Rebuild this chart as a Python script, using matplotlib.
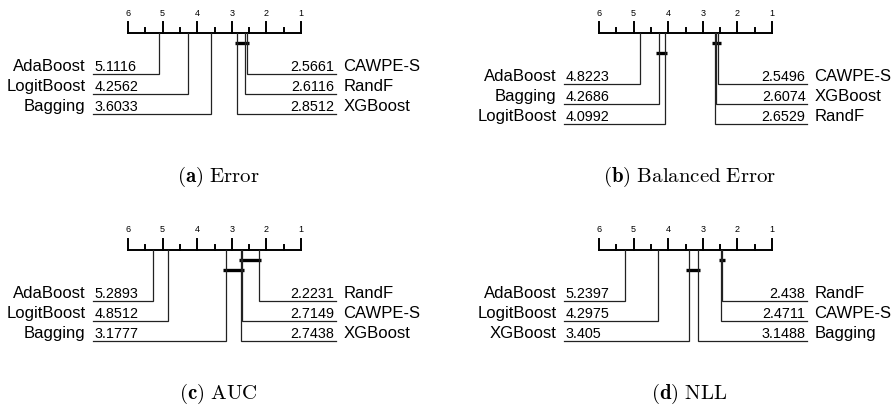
import matplotlib
matplotlib.use("Agg")
import matplotlib.pyplot as plt
import numpy as np

plt.rcParams["font.family"] = ["Liberation Sans", "DejaVu Sans"]
plt.rcParams["mathtext.fontset"] = "cm"

# average ranks over datasets (lower is better)
ERROR_NAMES = ["AdaBoost", "LogitBoost", "Bagging", "XGBoost", "RandF", "CAWPE-S"]
ERROR_RANKS = [5.1116, 4.2562, 3.6033, 2.8512, 2.6116, 2.5661]
ERROR_CLIQUES = [("XGBoost", "CAWPE-S")]

BAL_NAMES = ["AdaBoost", "Bagging", "LogitBoost", "RandF", "XGBoost", "CAWPE-S"]
BAL_RANKS = [4.8223, 4.2686, 4.0992, 2.6529, 2.6074, 2.5496]
BAL_CLIQUES = [("RandF", "CAWPE-S"), ("Bagging", "LogitBoost")]

AUC_NAMES = ["AdaBoost", "LogitBoost", "Bagging", "XGBoost", "CAWPE-S", "RandF"]
AUC_RANKS = [5.2893, 4.8512, 3.1777, 2.7438, 2.7149, 2.2231]
AUC_CLIQUES = [("CAWPE-S", "RandF"), ("Bagging", "CAWPE-S")]

NLL_NAMES = ["AdaBoost", "LogitBoost", "XGBoost", "Bagging", "CAWPE-S", "RandF"]
NLL_RANKS = [5.2397, 4.2975, 3.405, 3.1488, 2.4711, 2.438]
NLL_CLIQUES = [("CAWPE-S", "RandF"), ("XGBoost", "Bagging")]

CAPTIONS = [("a", "Error"), ("b", "Balanced\\ Error"), ("c", "AUC"), ("d", "NLL")]

W, H = 896, 409
PX = 34.6          # pixels per rank unit
LINE = "#222222"


def fmt(v):
    return f"{v:.4f}".rstrip("0").rstrip(".")


def cd_diagram(fig, x0, rank6_px, axis_y, names, ranks, cliques, letter, title, cap_y):
    top, bot = 30, 130
    ax = fig.add_axes([x0 / W, 1 - (axis_y + bot) / H, 448 / W, (top + bot) / H])
    ax.set_xlim(6 + (rank6_px - x0) / PX, 6 - (x0 + 448 - rank6_px) / PX)
    ax.set_ylim(bot, -top)
    ax.axis("off")

    # rank axis
    ax.plot([6, 1], [0, 0], color="k", lw=1.4, solid_capstyle="projecting")
    for r in np.arange(1, 6.01, 0.5):
        tl = 11 if r == int(r) else 5
        ax.plot([r, r], [0, -tl], color="k", lw=1.4)
        if r == int(r):
            ax.text(r, -20, str(int(r)), ha="center", va="center", fontsize=6.5)

    rk = dict(zip(names, ranks))
    for i, (a, b) in enumerate(cliques):
        lo, hi = min(rk[a], rk[b]), max(rk[a], rk[b])
        ax.plot([lo - 0.07, hi + 0.07], [10 + 10 * i] * 2, color="k", lw=2.4,
                solid_capstyle="butt")

    order = sorted(zip(names, ranks), key=lambda t: -t[1])
    half = (len(order) + 1) // 2
    left, right = order[:half], order[half:][::-1]
    row0 = 31 + 10 * len(cliques)
    for i, (n, r) in enumerate(left):
        y = row0 + 20 * i
        ax.plot([r, r, 7.0], [0, y, y], color=LINE, lw=0.9, solid_joinstyle="miter")
        ax.text(6.97, y - 3, fmt(r), ha="left", va="baseline", fontsize=10.4)
        ax.text(7.23, y - 3, n, ha="right", va="baseline", fontsize=12)
    for i, (n, r) in enumerate(right):
        y = row0 + 20 * i
        ax.plot([r, r, 0.0], [0, y, y], color=LINE, lw=0.9, solid_joinstyle="miter")
        ax.text(0.03, y - 3, fmt(r), ha="right", va="baseline", fontsize=10.4)
        ax.text(-0.22, y - 3, n, ha="left", va="baseline", fontsize=12)

    cx = rank6_px + 2.5 * PX + 4
    fig.text(cx / W, 1 - cap_y / H, rf"$\mathbf{{({letter})}}\ \mathrm{{{title}}}$",
             ha="center", va="center", fontsize=15)


fig = plt.figure(figsize=(W / 100, H / 100), dpi=100)
cd_diagram(fig, 0, 128, 33, ERROR_NAMES, ERROR_RANKS, ERROR_CLIQUES, *CAPTIONS[0], 177)
cd_diagram(fig, 448, 599, 33, BAL_NAMES, BAL_RANKS, BAL_CLIQUES, *CAPTIONS[1], 177)
cd_diagram(fig, 0, 128, 250, AUC_NAMES, AUC_RANKS, AUC_CLIQUES, *CAPTIONS[2], 394)
cd_diagram(fig, 448, 599, 250, NLL_NAMES, NLL_RANKS, NLL_CLIQUES, *CAPTIONS[3], 394)
fig.savefig("out.png", dpi=100)
